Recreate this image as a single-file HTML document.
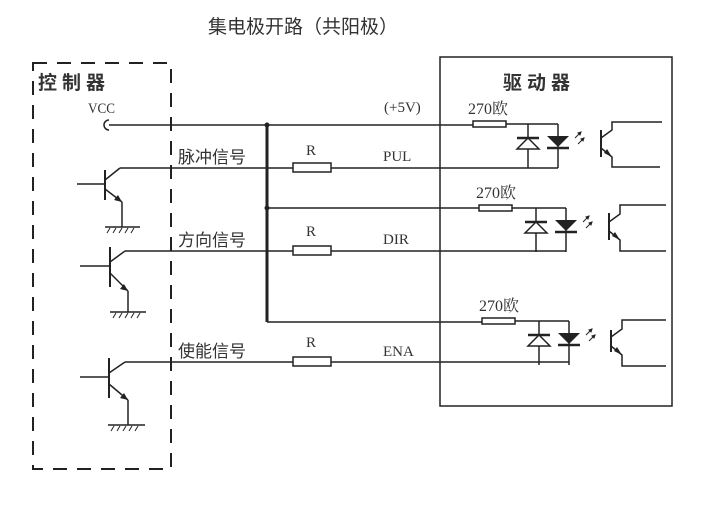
<!DOCTYPE html>
<html><head><meta charset="utf-8"><style>
html,body{margin:0;padding:0;background:#fff;}
svg{display:block;}
.cn{font-family:"Liberation Sans","Noto Sans CJK SC",sans-serif;fill:#333;}
.sf{font-family:"Liberation Serif","Noto Serif CJK SC",serif;fill:#333;}
</style></head><body>
<svg width="715" height="515" viewBox="0 0 715 515" xmlns="http://www.w3.org/2000/svg">
<defs>
<g id="opto">
  <line x1="0" y1="0" x2="0" y2="44" stroke="#222" stroke-width="1.5"/>
  <line x1="30" y1="0" x2="30" y2="44" stroke="#222" stroke-width="1.5"/>
  <line x1="-11" y1="14" x2="11" y2="14" stroke="#222" stroke-width="2.5"/>
  <polygon points="0,14 -11,25 11,25" fill="#fff" stroke="#222" stroke-width="1.5"/>
  <polygon points="19,12 41,12 30,23" fill="#222"/>
  <line x1="19" y1="24" x2="41" y2="24" stroke="#222" stroke-width="2.5"/>
  <g stroke="#222" stroke-width="1">
    <line x1="47" y1="14" x2="53" y2="8"/><line x1="50" y1="20" x2="56" y2="14"/>
    <polygon points="53,8 50,9 52,11" fill="#222"/><polygon points="56,14 53,15 55,17" fill="#222"/>
  </g>
</g>
</defs>
<g class="cn">
<text x="208" y="33" font-size="19">集电极开路（共阳极）</text>
<text x="38" y="89" font-size="19" letter-spacing="5" font-weight="bold">控制器</text>
<text x="503" y="89" font-size="19" letter-spacing="5" font-weight="bold">驱动器</text>
<text x="178" y="163" font-size="17">脉冲信号</text>
<text x="178" y="246" font-size="17">方向信号</text>
<text x="178" y="357" font-size="17">使能信号</text>
</g>
<g class="sf" font-size="15">
<text x="88" y="113" textLength="27" lengthAdjust="spacingAndGlyphs">VCC</text>
<text x="384" y="112">(+5V)</text>
<text x="306" y="155">R</text><text x="306" y="236">R</text><text x="306" y="347">R</text>
<text x="383" y="161">PUL</text><text x="383" y="244">DIR</text><text x="383" y="356">ENA</text>
<text x="468" y="114" font-size="16">270欧</text>
<text x="476" y="198" font-size="16">270欧</text>
<text x="479" y="311" font-size="16">270欧</text>
</g>
<rect x="33" y="63" width="138" height="406" fill="none" stroke="#222" stroke-width="2" stroke-dasharray="14,10"/>
<rect x="440" y="57" width="232" height="349" fill="none" stroke="#222" stroke-width="1.5"/>
<g stroke="#222" stroke-width="1.5" fill="none">
<path d="M109,120 A5,5 0 1,0 109,130"/>
<line x1="109" y1="125" x2="473" y2="125"/>
<line x1="506" y1="124" x2="558" y2="124"/>
<rect x="473" y="121" width="33" height="6"/>
<line x1="267" y1="125" x2="267" y2="322" stroke-width="3"/>
<line x1="120" y1="168" x2="293" y2="168"/><line x1="331" y1="168" x2="558" y2="168"/>
<rect x="293" y="163" width="38" height="9"/>
<line x1="267" y1="208" x2="479" y2="208"/><line x1="512" y1="208" x2="566" y2="208"/>
<rect x="479" y="205" width="33" height="6"/>
<line x1="125" y1="251" x2="293" y2="251"/><line x1="331" y1="251" x2="566" y2="251"/>
<rect x="293" y="246" width="38" height="9"/>
<line x1="267" y1="322" x2="482" y2="322"/><line x1="515" y1="321" x2="569" y2="321"/>
<rect x="482" y="318" width="33" height="6"/>
<line x1="125" y1="362" x2="293" y2="362"/><line x1="331" y1="362" x2="569" y2="362"/>
<rect x="293" y="357" width="38" height="9"/>
<line x1="77" y1="184" x2="105" y2="184"/><line x1="105" y1="170" x2="105" y2="200" stroke-width="2"/>
<line x1="105" y1="180" x2="120" y2="168"/><line x1="105" y1="189" x2="122" y2="202"/><line x1="122" y1="202" x2="122" y2="227"/>
<line x1="105" y1="227" x2="140" y2="227"/>
<line x1="80" y1="266" x2="110" y2="266"/><line x1="110" y1="247" x2="110" y2="287" stroke-width="2"/>
<line x1="110" y1="262" x2="125" y2="251"/><line x1="110" y1="273" x2="128" y2="291"/><line x1="128" y1="291" x2="128" y2="312"/>
<line x1="110" y1="312" x2="146" y2="312"/>
<line x1="80" y1="377" x2="109" y2="377"/><line x1="109" y1="358" x2="109" y2="398" stroke-width="2"/>
<line x1="109" y1="373" x2="125" y2="362"/><line x1="109" y1="384" x2="128" y2="400"/><line x1="128" y1="400" x2="128" y2="425"/>
<line x1="108" y1="425" x2="145" y2="425"/>
<g stroke-width="1">
<path d="M110,228l-3,5M116,228l-3,5M122,228l-3,5M128,228l-3,5M134,228l-3,5"/>
<path d="M116,313l-3,5M122,313l-3,5M128,313l-3,5M134,313l-3,5M140,313l-3,5"/>
<path d="M114,426l-3,5M120,426l-3,5M126,426l-3,5M132,426l-3,5M138,426l-3,5"/>
</g>
<line x1="601" y1="130" x2="601" y2="157" stroke-width="2"/>
<path d="M601,138 L612,130 L612,122 L662,122 M601,148 L612,157 L612,167 L660,167"/>
<line x1="609" y1="213" x2="609" y2="240" stroke-width="2"/>
<path d="M609,222 L620,214 L620,205 L666,205 M609,231 L620,240 L620,251 L666,251"/>
<line x1="611" y1="330" x2="611" y2="352" stroke-width="2"/>
<path d="M611,337 L622,329 L622,320 L666,320 M611,346 L622,355 L622,366 L666,366"/>
</g>
<g fill="#222">
<circle cx="267" cy="125" r="2.5"/><circle cx="267" cy="208" r="2.5"/>
<polygon points="122,202 114,200 118,195"/><polygon points="128,291 120,289 124,284"/><polygon points="128,400 120,398 124,393"/>
<polygon points="612,157 604,153 607,149"/><polygon points="620,240 612,236 615,232"/><polygon points="622,355 614,351 617,347"/>
</g>
<use href="#opto" x="528" y="124"/>
<use href="#opto" x="536" y="208"/>
<use href="#opto" x="539" y="321"/>
</svg>
</body></html>
